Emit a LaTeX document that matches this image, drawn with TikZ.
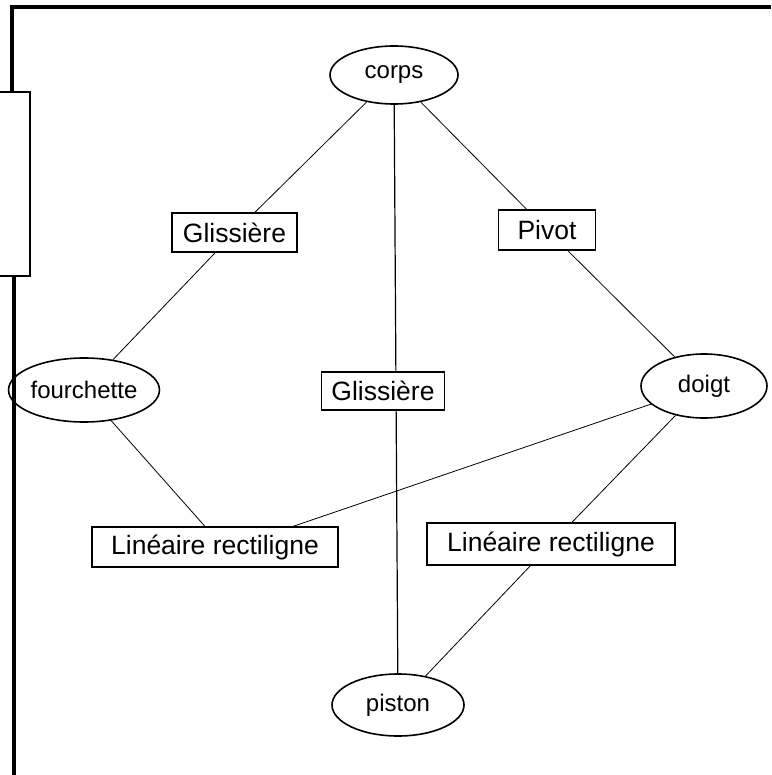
\documentclass[tikz,border=0pt]{standalone}
\usepackage{fontspec}
\setmainfont{Liberation Sans}
\usetikzlibrary{shapes.geometric}
\tikzset{
  piece/.style={draw, ellipse, line width=1.6pt, inner sep=0pt, font=\fontsize{24}{24}\selectfont},
  liaison/.style={draw, rectangle, fill=white, line width=1.2pt, inner sep=0pt, font=\fontsize{26.5}{26.5}\selectfont},
  lien/.style={line width=0.8pt}
}
\begin{document}
\begin{tikzpicture}[x=1pt, y=-1pt]
        \useasboundingbox (0,0) rectangle (771,775);
        % cadre
        \draw [line width=3.5pt] (771,7) -- (12,7) -- (12,93);
        \draw [line width=1.8pt] (0,92) -- (30,92) -- (30,276) -- (0,276);
        \draw [line width=3.5pt] (14,276) -- (14,775);

        % pieces
        \node [piece, minimum width=128, minimum height=58] (corps) at (394,75) {corps};
        \node [piece, minimum width=128, minimum height=64] (fourchette) at (84,390) {fourchette};
        \node [piece, minimum width=126, minimum height=64] (doigt) at (704,386) {doigt};
        \node [piece, minimum width=132, minimum height=62] (piston) at (398,705) {piston};

        % liaisons
        \draw [line width=1.2pt] (corps) -- (piston);
        \node [liaison, minimum width=125, minimum height=39] (gliss1) at (234.5,232.5) {Glissi\`ere};
        \node [liaison, minimum width=97, minimum height=40] (pivot) at (547,230) {Pivot};
        \node [liaison, minimum width=123, minimum height=38] (gliss2) at (383,391) {Glissi\`ere};
        \node [liaison, minimum width=246, minimum height=40] (lin1) at (215,547) {Lin\'eaire rectiligne};
        \node [liaison, minimum width=248, minimum height=42] (lin2) at (551,544) {Lin\'eaire rectiligne};

        \draw [lien] (corps) -- (gliss1) -- (fourchette);
        \draw [lien] (corps) -- (pivot) -- (doigt);
        \draw [lien] (fourchette) -- ([xshift=-10pt]lin1.north);
        \draw [lien] (doigt) -- ([xshift=78pt]lin1.north);
        \draw [lien] (doigt) -- (lin2) -- (piston);
    \end{tikzpicture}
\end{document}
